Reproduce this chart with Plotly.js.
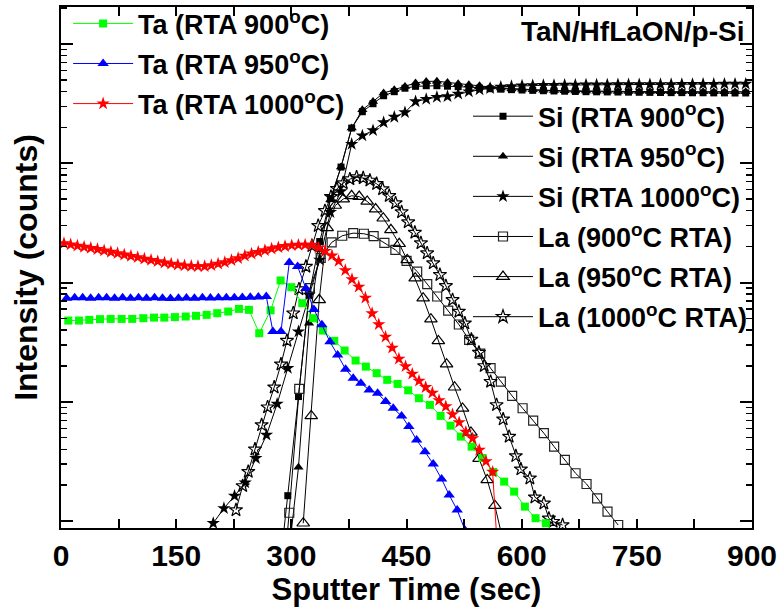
<!DOCTYPE html>
<html>
<head>
<meta charset="utf-8">
<script src="https://cdn.plot.ly/plotly-3.0.1.min.js"></script>
<style>html,body{margin:0;padding:0;background:#fff;}</style>
</head>
<body>
<div id="chart" style="width:783px;height:610px;"></div>
<script>
// ---- Data (x: sputter time in sec, y: log10 of intensity in counts) ----
const ta900X = [9.5,23.4,36.8,50.8,64.7,79.0,92.8,107.2,121.1,134.5,148.4,162.4,175.8,189.7,203.5,217.8,231.8,244.8,258.2,273.0,286.0,299.9,314.2,328.5,341.1,355.9,369.4,383.7,397.1,411.1,424.9,438.4,452.2,466.1,480.5,494.4,507.4,520.8,534.8,549.1,562.9,577.2,590.2,604.2,618.1,631.5];
const ta900Log = [1.681,1.681,1.687,1.693,1.695,1.695,1.695,1.701,1.706,1.706,1.710,1.715,1.721,1.729,1.743,1.757,1.779,1.771,1.575,1.767,2.017,1.961,1.827,1.701,1.597,1.511,1.430,1.346,1.295,1.240,1.184,1.150,1.096,1.030,0.974,0.882,0.800,0.708,0.624,0.529,0.412,0.331,0.247,0.121,0.024,-0.018];

const ta950X = [7.4,17.8,28.2,38.6,49.0,59.4,69.8,80.2,90.6,101.0,111.4,121.8,132.2,142.6,153.0,163.4,173.8,184.2,194.6,205.0,215.4,225.8,236.2,246.6,257.0,267.4,276.0,286.5,297.3,308.2,319.0,329.4,339.8,350.3,360.3,370.7,380.6,390.6,401.4,412.4,422.8,432.7,443.6,453.1,463.2,474.0,484.8,495.7,505.6,516.0,526.5];
const ta950Log = [1.868,1.872,1.872,1.868,1.872,1.872,1.868,1.872,1.868,1.872,1.868,1.872,1.868,1.866,1.868,1.870,1.868,1.872,1.870,1.872,1.872,1.872,1.874,1.876,1.878,1.882,1.589,1.589,2.168,2.134,1.949,1.773,1.645,1.503,1.393,1.273,1.198,1.156,1.100,1.072,1.002,0.946,0.882,0.792,0.680,0.582,0.479,0.353,0.219,0.093,-0.08];

const ta1000X = [3.9,12.6,21.4,30.1,38.8,47.5,56.2,65.0,73.7,82.4,91.1,99.9,108.6,117.3,126.0,134.8,143.5,152.2,160.9,169.7,178.4,187.1,195.8,204.6,213.3,222.0,230.7,239.4,248.2,256.9,265.6,274.3,283.1,291.8,300.5,309.2,318.0,326.7,335.4,344.1,352.9,361.6,370.3,379.0,387.8,396.5,405.2,413.9,422.7,431.4,440.1,448.8,457.5,466.3,475.0,483.7,492.4,501.2,509.9,518.6,527.3,536.1,544.8,553.5,562.2,571.0];
const ta1000Log = [2.329,2.318,2.308,2.298,2.289,2.279,2.268,2.256,2.245,2.233,2.222,2.211,2.199,2.188,2.177,2.166,2.157,2.149,2.142,2.138,2.136,2.136,2.144,2.157,2.169,2.186,2.203,2.224,2.241,2.255,2.270,2.283,2.294,2.304,2.311,2.315,2.316,2.315,2.291,2.264,2.226,2.180,2.102,2.027,1.964,1.872,1.742,1.649,1.544,1.452,1.360,1.297,1.234,1.175,1.122,1.075,1.012,0.961,0.894,0.827,0.747,0.693,0.596,0.500,0.412,-0.5];

const si1000X = [184.4,198.3,212.2,226.0,239.9,253.8,267.7,281.5,295.4,309.3,323.1,337.0,350.9,364.7,378.6,392.5,406.4,420.2,434.1,448.0,461.8,475.7,489.6,503.4,517.3,531.2,545.1,558.9,572.8,586.7,600.5,614.4,628.3,642.1,656.0,669.9,683.8,697.6,711.5,725.4,739.2,753.1,767.0,780.8,794.7,808.6,822.5,836.3,850.2,864.1,877.9,891.8];
const si1000Log = [-0.14,-0.018,0.107,0.211,0.322,0.527,0.722,0.982,1.282,1.589,1.897,2.190,2.589,2.763,3.161,3.231,3.275,3.342,3.388,3.426,3.518,3.537,3.555,3.560,3.581,3.600,3.617,3.628,3.640,3.645,3.650,3.652,3.654,3.655,3.656,3.657,3.658,3.658,3.659,3.660,3.660,3.661,3.661,3.662,3.662,3.663,3.663,3.664,3.664,3.665,3.665,3.665];

const si900X = [281.5,295.4,309.3,323.1,337.0,350.9,364.7,378.6,392.5,406.4,420.2,434.1,448.0,461.8,475.7,489.6,503.4,517.3,531.2,545.1,558.9,572.8,586.7,600.5,614.4,628.3,642.1,656.0,669.9,683.8,697.6,711.5,725.4,739.2,753.1,767.0,780.8,794.7,808.6,822.5,836.3,850.2,864.1,877.9,891.8];
const si900Log = [-0.6,0.213,1.044,1.897,2.344,2.704,2.968,3.295,3.432,3.499,3.566,3.600,3.629,3.645,3.650,3.650,3.646,3.642,3.636,3.630,3.625,3.621,3.617,3.614,3.611,3.608,3.606,3.604,3.602,3.600,3.599,3.598,3.597,3.596,3.595,3.594,3.593,3.592,3.592,3.591,3.591,3.590,3.590,3.589,3.589];

const si950X = [295.4,309.3,323.1,337.0,350.9,364.7,378.6,392.5,406.4,420.2,434.1,448.0,461.8,475.7,489.6,503.4,517.3,531.2,545.1,558.9,572.8,586.7,600.5,614.4,628.3,642.1,656.0,669.9,683.8,697.6,711.5,725.4,739.2,753.1,767.0,780.8,794.7,808.6,822.5,836.3,850.2,864.1,877.9,891.8];
const si950Log = [-0.35,0.451,1.659,2.274,2.694,2.968,3.295,3.449,3.518,3.589,3.617,3.644,3.673,3.686,3.688,3.678,3.667,3.659,3.650,3.639,3.631,3.625,3.620,3.616,3.613,3.610,3.608,3.606,3.605,3.604,3.603,3.602,3.602,3.601,3.601,3.600,3.600,3.600,3.600,3.600,3.600,3.600,3.600,3.600];

const la900X = [283.5,297.3,310.3,324.2,338.2,352.5,366.3,380.6,394.5,407.2,421.2,435.5,450.1,463.9,477.0,490.0,504.3,518.2,531.6,546.0,559.5,572.9,587.6,601.2,615.0,628.9,642.3,656.3,670.2,684.5,698.3,711.8,725.7];
const la900Log = [-1.0,0.070,1.108,1.953,2.207,2.336,2.392,2.414,2.409,2.389,2.333,2.274,2.182,2.092,1.987,1.883,1.765,1.648,1.519,1.404,1.282,1.169,1.049,0.946,0.842,0.737,0.624,0.513,0.401,0.311,0.191,0.079,-0.033];

const la950X = [315.5,325.9,336.3,346.7,357.2,367.6,378.5,388.4,398.8,409.8,419.7,429.7,440.5,450.9,461.3,471.7,481.8,491.5,502.2,512.6,523.0,533.9,544.5,555.1,565.1,575.5];
const la950Log = [-0.018,0.882,1.855,2.459,2.646,2.700,2.727,2.721,2.680,2.616,2.539,2.442,2.325,2.190,2.037,1.869,1.693,1.511,1.316,1.122,0.945,0.743,0.523,0.345,0.129,-0.157];

const la1000X = [227.9,236.6,243.9,252.6,261.3,269.1,277.7,286.5,294.3,302.5,309.9,319.0,326.8,335.0,343.8,351.6,359.4,367.6,376.3,385.0,393.6,402.3,411.1,418.9,427.5,435.8,443.6,452.2,460.9,468.8,476.9,484.8,493.5,501.3,510.0,518.2,526.0,534.5,544.3,551.2,559.5,567.3,575.9,583.7,592.4,599.0,610.7,617.2,628.9,635.4,641.0,653.3];
const la1000Log = [0.093,0.295,0.414,0.602,0.806,0.955,1.122,1.315,1.513,1.743,1.945,2.134,2.308,2.476,2.601,2.719,2.786,2.834,2.867,2.884,2.876,2.856,2.828,2.784,2.727,2.666,2.591,2.507,2.419,2.331,2.247,2.163,2.065,1.972,1.855,1.757,1.659,1.523,1.413,1.301,1.169,0.974,0.854,0.708,0.546,0.435,0.359,0.200,0.149,0.023,-0.005,-0.033];

const legendTa = ['Ta (RTA 900<sup>o</sup>C)', 'Ta (RTA 950<sup>o</sup>C)', 'Ta (RTA 1000<sup>o</sup>C)'];
const legendSiLa = ['Si (RTA 900<sup>o</sup>C)', 'Si (RTA 950<sup>o</sup>C)', 'Si (RTA 1000<sup>o</sup>C)',
                    'La (900<sup>o</sup>C RTA)', 'La (950<sup>o</sup>C RTA)', 'La (1000<sup>o</sup>C RTA)'];
const sampleLabel = 'TaN/HfLaON/p-Si';
const xTickLabels = ['0','150','300','450','600','750','900'];
const xTickVals = [0,150,300,450,600,750,900];

// ---- Build traces ----
const toCounts = arr => arr.map(v => Math.pow(10, v));
const FONT = 'Liberation Sans, Arial, Helvetica, sans-serif';

function tr(x, yl, name, color, lineColor, symbol, size, legend, grp, mlw) {
  return {
    x: x, y: toCounts(yl), name: name, type: 'scatter', mode: 'lines+markers',
    line: {color: lineColor, width: 1},
    marker: {symbol: symbol, size: size, color: color, line: {color: color, width: mlw || 0}},
    legend: legend, legendgroup: grp, cliponaxis: true
  };
}

const traces = [
  tr(si900X, si900Log, legendSiLa[0], '#000', '#000', 'square', 7, 'legend2', 's1'),
  tr(si950X, si950Log, legendSiLa[1], '#000', '#000', 'triangle-up', 9, 'legend2', 's2'),
  tr(si1000X, si1000Log, legendSiLa[2], '#000', '#000', 'star', 10, 'legend2', 's3'),
  tr(la900X, la900Log, legendSiLa[3], '#222', '#000', 'square-open', 9, 'legend2', 's4', 1.2),
  tr(la950X, la950Log, legendSiLa[4], '#000', '#000', 'triangle-up-open', 11, 'legend2', 's5', 1.2),
  tr(la1000X, la1000Log, legendSiLa[5], '#000', '#000', 'star-open', 10, 'legend2', 's6', 1.2),
  tr(ta900X, ta900Log, legendTa[0], '#00ff00', '#00ff00', 'square', 8, 'legend', 't1'),
  tr(ta950X, ta950Log, legendTa[1], '#0000ff', '#0000ff', 'triangle-up', 10, 'legend', 't2'),
  tr(ta1000X, ta1000Log, legendTa[2], '#ff0000', '#ff0000', 'star', 10, 'legend', 't3')
];

const minorVals = [];
[1, 10, 100, 1000, 10000].forEach(d => { for (let k = 2; k <= 9; k++) minorVals.push(k * d); });

const layout = {
  width: 783, height: 610,
  margin: {l: 61, r: 31, t: 7, b: 82, autoexpand: false},
  paper_bgcolor: '#fff', plot_bgcolor: '#fff',
  font: {family: FONT, color: '#000'},
  showlegend: true,
  xaxis: {
    range: [0, 900], tickmode: 'array', tickvals: xTickVals, ticktext: xTickLabels,
    ticks: 'inside', ticklen: 9, tickwidth: 2, tickcolor: '#000',
    minor: {tickmode: 'linear', tick0: 0, dtick: 75, ticks: 'inside', ticklen: 9, tickwidth: 2, tickcolor: '#000'},
    showline: true, linewidth: 2, linecolor: '#000', mirror: 'ticks',
    showgrid: false, zeroline: false, automargin: false,
    tickfont: {family: FONT, size: 30, weight: 'bold', color: '#000'},
    title: {text: 'Sputter Time (sec)', font: {family: FONT, size: 31, weight: 'bold', color: '#000'}, standoff: 4}
  },
  yaxis: {
    type: 'log', range: [-0.058, 4.31],
    tickmode: 'array', tickvals: [1, 10, 100, 1000, 10000], showticklabels: false,
    ticks: 'inside', ticklen: 12, tickwidth: 2, tickcolor: '#000',
    minor: {tickmode: 'array', tickvals: minorVals, ticks: 'inside', ticklen: 6, tickwidth: 1.5, tickcolor: '#000'},
    showline: true, linewidth: 2, linecolor: '#000', mirror: 'ticks',
    showgrid: false, zeroline: false, automargin: false,
    title: {text: 'Intensity (counts)', font: {family: FONT, size: 32, weight: 'bold', color: '#000'}, standoff: 12}
  },
  legend: {
    x: 0.0103, y: 1.0147, xanchor: 'left', yanchor: 'top',
    bgcolor: 'rgba(0,0,0,0)', borderwidth: 0, itemwidth: 60,
    traceorder: 'grouped', tracegroupgap: 2,
    font: {family: FONT, size: 27, weight: 'bold', color: '#000'}
  },
  legend2: {
    x: 0.589, y: 0.8366, xanchor: 'left', yanchor: 'top',
    bgcolor: 'rgba(0,0,0,0)', borderwidth: 0, itemwidth: 60,
    traceorder: 'grouped', tracegroupgap: 2,
    font: {family: FONT, size: 27, weight: 'bold', color: '#000'}
  },
  annotations: [{
    text: sampleLabel, xref: 'paper', yref: 'paper', x: 0.991, y: 0.9526,
    xanchor: 'right', yanchor: 'middle', showarrow: false,
    font: {family: FONT, size: 28, weight: 'bold', color: '#000'}
  }]
};

Plotly.newPlot('chart', traces, layout, {staticPlot: true, displayModeBar: false});
</script>
</body>
</html>
